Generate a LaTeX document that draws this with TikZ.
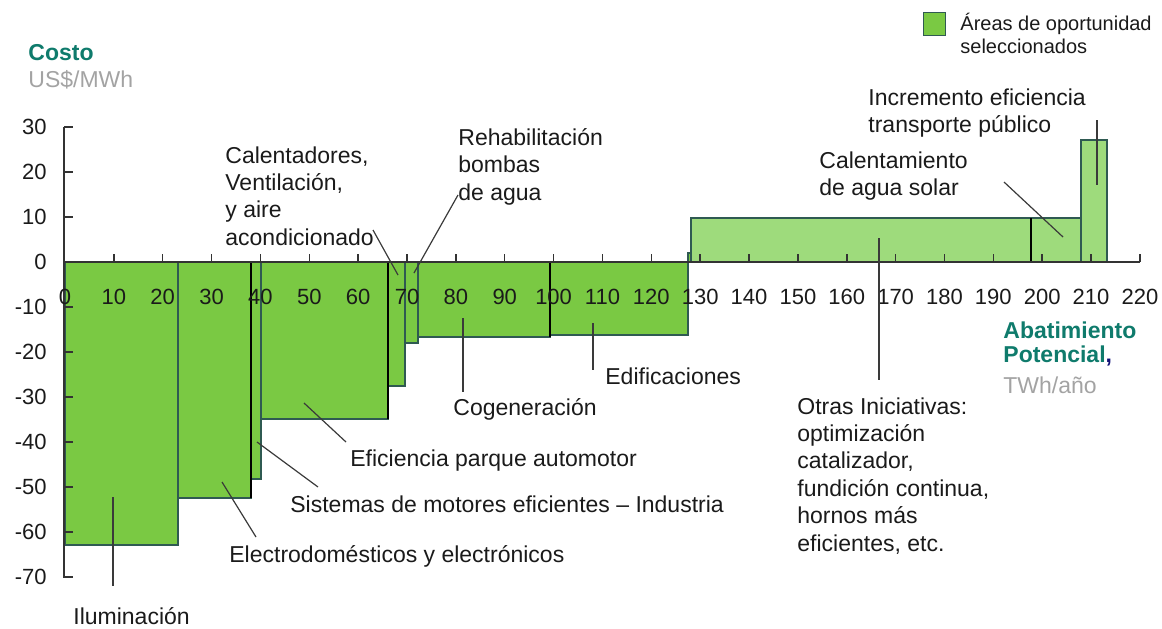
\documentclass[tikz,border=0pt]{standalone}
\usepackage{fontspec}
\setmainfont{Liberation Sans}
\definecolor{bardark}{HTML}{7AC943}
\definecolor{barlight}{HTML}{9EDB7C}
\definecolor{baredge}{HTML}{2F5A52}
\definecolor{costteal}{HTML}{0F7B6C}
\definecolor{unitgray}{HTML}{A3A3A3}
\definecolor{txt}{HTML}{1A1A1A}
\definecolor{axisgray}{HTML}{333333}
\definecolor{leadgray}{HTML}{3A3A3A}
\begin{document}
\begin{tikzpicture}[x=0.5pt,y=-0.5pt,
  lbl/.style={font=\fontsize{11.5}{13.7}\selectfont, text=txt, inner sep=0, align=left, anchor=north west},
  slbl/.style={font=\fontsize{11.5}{13.7}\selectfont, text=txt, inner sep=0, anchor=west},
  num/.style={font=\fontsize{11}{13}\selectfont, text=txt, inner sep=0},
  leader/.style={draw=leadgray, line width=0.6pt},
  negbar/.style={fill=bardark, draw=baredge, line width=0.7pt},
  posbar/.style={fill=barlight, draw=baredge, line width=0.7pt},
  axisline/.style={draw=axisgray, line width=0.75pt},
  divider/.style={draw=black, line width=0.6pt}]
\useasboundingbox (0,0) rectangle (1162,628);
% negative bars
\draw[negbar] (65,262) rectangle (178,545);
\draw[negbar] (178,262) rectangle (251,498);
\draw[negbar] (251,262) rectangle (261,479);
\draw[negbar] (261,262) rectangle (388,419);
\draw[negbar] (388,262) rectangle (405,386);
\draw[negbar] (405,262) rectangle (418,343);
\draw[negbar] (418,262) rectangle (550,337);
\draw[negbar] (550,262) rectangle (688,335);
\draw[negbar] (688,262) rectangle (691,253);
% positive bars
\draw[posbar] (691,262) rectangle (1031,218);
\draw[posbar] (1031,262) rectangle (1081,218);
\draw[posbar] (1081,262) rectangle (1107,140);
% darker dividers
\draw[divider] (251,262) -- (251,498);
\draw[divider] (388,262) -- (388,419);
\draw[divider] (550,262) -- (550,337);
\draw[divider] (1031,218) -- (1031,262);
% axes
\draw[axisline] (64,127) -- (64,578);
\draw[axisline] (64,262) -- (1140,262);
\foreach \v in {30,20,...,-70}
  \draw[axisline] (64,{262-4.5*\v}) -- (73,{262-4.5*\v});
\foreach \v in {10,20,...,220}
  \draw[axisline] ({65+4.886*\v},262) -- ({65+4.886*\v},254);
\foreach \v in {30,20,...,-70}
  \node[num, anchor=east] (yl\v) at (47,{262-4.5*\v}) {\v};
\foreach \v in {0,10,...,220}
  \node[num] (xl\v) at ({65+4.886*\v},297) {\v};
% axis titles
\node[inner sep=0, anchor=west, font=\fontsize{11.5}{13.5}\selectfont\bfseries, text=costteal] (costo) at (28,53) {Costo};
\node[inner sep=0, anchor=west, font=\fontsize{11.5}{13.5}\selectfont, text=unitgray] (costunit) at (28,80) {US\$/MWh};
\node[inner sep=0, anchor=west, font=\fontsize{11.5}{13.5}\selectfont\bfseries, text=costteal] (abat1) at (1003,330) {Abatimiento};
\node[inner sep=0, anchor=west, font=\fontsize{11.5}{13.5}\selectfont\bfseries, text=costteal] (abat2) at (1003,356) {Potencial\textcolor{txt!60!blue}{,}};
\node[inner sep=0, anchor=west, font=\fontsize{11.5}{13.5}\selectfont, text=unitgray] (abat3) at (1003,385) {TWh/año};
% legend
\node[draw=baredge, fill=bardark, line width=0.6pt, minimum width=11.2pt, minimum height=11.2pt, inner sep=0] (legbox) at (934.5,24) {};
\node[inner sep=0, anchor=north west, align=left, font=\fontsize{10}{11.5}\selectfont, text=txt] (legtext) at (960,13) {Áreas de oportunidad\\seleccionados};
% labels
\node[slbl] (ilum) at (73,616) {Iluminación};
\node[slbl] (electro) at (229,556) {Electrodomésticos y electrónicos};
\node[slbl] (motores) at (290,504) {Sistemas de motores eficientes – Industria};
\node[slbl] (parque) at (350,461) {Eficiencia parque automotor};
\node[lbl] (calent) at (225,146) {Calentadores,\\Ventilación,\\y aire\\acondicionado};
\node[lbl] (rehab) at (458,128) {Rehabilitación\\bombas\\de agua};
\node[slbl] (cogen) at (453,409) {Cogeneración};
\node[slbl] (edif) at (605,376) {Edificaciones};
\node[lbl] (otras) at (797,397) {Otras Iniciativas:\\optimización\\catalizador,\\fundición continua,\\hornos más\\eficientes, etc.};
\node[lbl] (solar) at (819,151) {Calentamiento\\de agua solar};
\node[lbl] (transp) at (868,88) {Incremento eficiencia\\transporte público};
% leader end points
\coordinate (ilumA) at (113,497);   \coordinate (ilumB) at (113,586);
\coordinate (electroA) at (222,482); \coordinate (electroB) at (256,537);
\coordinate (motoresA) at (257,442); \coordinate (motoresB) at (318,487);
\coordinate (parqueA) at (304,403); \coordinate (parqueB) at (346,442);
\coordinate (calentA) at (373,230); \coordinate (calentB) at (398,275);
\coordinate (rehabA) at (458,195); \coordinate (rehabB) at (414,273);
\coordinate (cogenA) at (463,318); \coordinate (cogenB) at (463,392);
\coordinate (edifA) at (593,323); \coordinate (edifB) at (593,370);
\coordinate (otrasA) at (879,238); \coordinate (otrasB) at (879,380);
\coordinate (solarA) at (1004,182); \coordinate (solarB) at (1063,237);
\coordinate (transpA) at (1097,120); \coordinate (transpB) at (1097,185);
\foreach \n in {ilum,electro,motores,parque,calent,rehab,cogen,edif,otras,solar,transp}
  \draw[leader] (\n A) -- (\n B);
\end{tikzpicture}
\end{document}
